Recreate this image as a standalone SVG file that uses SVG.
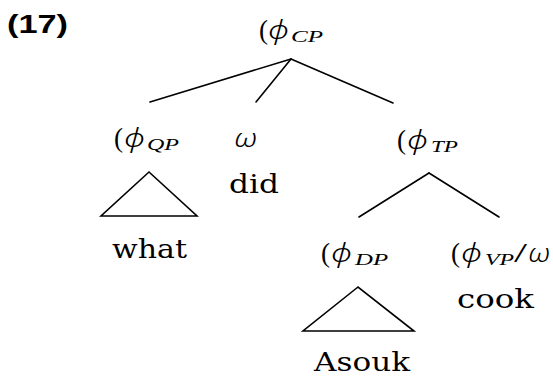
<svg xmlns="http://www.w3.org/2000/svg" width="553" height="377" viewBox="0 0 553 377">
  <style>
    .edge { stroke: #000; stroke-width: 1.6; fill: none; stroke-linecap: round; }
    .tri { stroke: #000; stroke-width: 1.6; fill: none; stroke-linejoin: miter; }
    .word { font-family: "DejaVu Serif", "Liberation Serif", serif; font-size: 26px; fill: #000; }
    .par { font-family: "Liberation Serif", serif; font-size: 27px; fill: #000; }
    .phi { font-family: "Noto Sans", "DejaVu Sans", sans-serif; font-weight: 300; font-style: italic; font-size: 25px; fill: #000; }
    .sub { font-family: "Liberation Serif", serif; font-style: italic; font-size: 16px; fill: #000; }
    .num { font-family: "Liberation Sans", sans-serif; font-weight: bold; font-size: 26px; fill: #000; }
  </style>
  <rect width="553" height="377" fill="#fff"/>

  <text class="num" x="7" y="33" textLength="61" lengthAdjust="spacingAndGlyphs">(17)</text>

  <!-- tree branches and collapsed-subtree triangles -->
  <g id="edges">
    <path class="edge" d="M291,59 L150,102"/>
    <path class="edge" d="M291,59 L256,102"/>
    <path class="edge" d="M291,59 L393,103"/>
    <path class="edge" d="M429,173 L359,217"/>
    <path class="edge" d="M429,173 L499,217"/>
    <path class="tri" d="M149,172 L101,216 L197,216 Z"/>
    <path class="tri" d="M358,287 L303,331 L414,331 Z"/>
  </g>

  <g id="cp">
    <text class="par" x="259" y="39" textLength="9" lengthAdjust="spacingAndGlyphs">(</text>
    <text class="phi" x="268" y="39" textLength="21" lengthAdjust="spacingAndGlyphs">ϕ</text>
    <text class="sub" x="291" y="42" textLength="32" lengthAdjust="spacingAndGlyphs">CP</text>
  </g>

  <g id="qp">
    <text class="par" x="114" y="147" textLength="9" lengthAdjust="spacingAndGlyphs">(</text>
    <text class="phi" x="124" y="147" textLength="21" lengthAdjust="spacingAndGlyphs">ϕ</text>
    <text class="sub" x="147" y="150" textLength="32" lengthAdjust="spacingAndGlyphs">QP</text>
  </g>
  <g id="what">
    <text class="word" x="112" y="258" textLength="75" lengthAdjust="spacingAndGlyphs">what</text>
  </g>

  <g id="omega">
    <text class="phi" x="234" y="147" textLength="23" lengthAdjust="spacingAndGlyphs">ω</text>
    <text class="word" x="229" y="193" textLength="50" lengthAdjust="spacingAndGlyphs">did</text>
  </g>

  <g id="tp">
    <text class="par" x="397" y="149" textLength="9" lengthAdjust="spacingAndGlyphs">(</text>
    <text class="phi" x="407" y="149" textLength="21" lengthAdjust="spacingAndGlyphs">ϕ</text>
    <text class="sub" x="431" y="152" textLength="27" lengthAdjust="spacingAndGlyphs">TP</text>
  </g>

  <g id="dp">
    <text class="par" x="321" y="262" textLength="9" lengthAdjust="spacingAndGlyphs">(</text>
    <text class="phi" x="331" y="262" textLength="21" lengthAdjust="spacingAndGlyphs">ϕ</text>
    <text class="sub" x="355" y="265" textLength="33" lengthAdjust="spacingAndGlyphs">DP</text>
  </g>
  <g id="asouk">
    <text class="word" x="314" y="371" textLength="96" lengthAdjust="spacingAndGlyphs">Asouk</text>
  </g>

  <g id="vp">
    <text class="par" x="451" y="262" textLength="9" lengthAdjust="spacingAndGlyphs">(</text>
    <text class="phi" x="461" y="262" textLength="21" lengthAdjust="spacingAndGlyphs">ϕ</text>
    <text class="sub" x="485" y="265" textLength="29" lengthAdjust="spacingAndGlyphs">VP</text>
    <text class="par" x="514" y="262" textLength="13" lengthAdjust="spacingAndGlyphs">/</text>
    <text class="phi" x="528" y="262" textLength="22" lengthAdjust="spacingAndGlyphs">ω</text>
  </g>
  <g id="cook">
    <text class="word" x="457" y="308" textLength="77" lengthAdjust="spacingAndGlyphs">cook</text>
  </g>
</svg>
